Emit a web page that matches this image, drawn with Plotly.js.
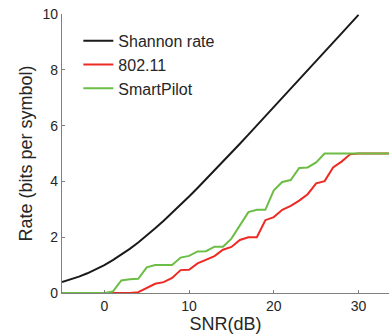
<!DOCTYPE html>
<html>
<head>
<meta charset="utf-8">
<script src="https://cdn.plot.ly/plotly-3.0.1.min.js"></script>
<style>html,body{margin:0;padding:0;background:#fff;}#chart{width:389px;height:336px;}</style>
</head>
<body>
<div id="chart"></div>
<script>
// SNR (dB)
const snr = [-5,-4,-3,-2,-1,0,1,2,3,4,5,6,7,8,9,10,11,12,13,14,15,16,17,18,19,20,21,22,23,24,25,26,27,28,29,30,31,32,33,34,35];
// Shannon rate (bits/symbol), up to 30 dB
const shannonSnr = [-5,-4,-3,-2,-1,0,1,2,3,4,5,6,7,8,9,10,11,12,13,14,15,16,17,18,19,20,21,22,23,24,25,26,27,28,29,30];
const shannonRate = [0.396,0.484,0.586,0.706,0.843,1.0,1.176,1.370,1.583,1.812,2.057,2.317,2.588,2.870,3.161,3.459,3.764,4.075,4.389,4.707,5.028,5.351,5.676,6.002,6.330,6.658,6.988,7.317,7.647,7.978,8.309,8.640,8.972,9.304,9.635,9.967];
// 802.11
const rate80211 = [0,0,0,0,0,0,0,0,0,0.03,0.18,0.33,0.39,0.54,0.82,0.83,1.06,1.2,1.32,1.55,1.65,1.9,2.0,2.0,2.61,2.72,2.98,3.12,3.31,3.54,3.93,4.01,4.5,4.71,4.97,5.0,5.0,5.0,5.0,5.0,5.0];
// SmartPilot
const rateSmartPilot = [0,0,0,0,0,0,0.05,0.45,0.49,0.51,0.92,1.0,1.0,1.0,1.27,1.33,1.49,1.5,1.66,1.66,1.95,2.45,2.9,2.98,2.98,3.68,3.98,4.05,4.48,4.5,4.68,5.0,5.0,5.0,5.0,5.0,5.0,5.0,5.0,5.0,5.0];

const xTicks = [0,10,20,30];
const yTicks = [0,2,4,6,8,10];

const traces = [
  {x: shannonSnr, y: shannonRate, name: 'Shannon rate', mode: 'lines', line: {color: '#1a1a1a', width: 2}},
  {x: snr, y: rate80211, name: '802.11', mode: 'lines', line: {color: '#ee2a24', width: 2}},
  {x: snr, y: rateSmartPilot, name: 'SmartPilot', mode: 'lines', line: {color: '#6cbd45', width: 2}}
];

const axisCommon = {
  showgrid: false, zeroline: false, showline: true, linecolor: '#808080', linewidth: 1.2,
  ticks: 'inside', ticklen: 3, tickcolor: '#808080', tickwidth: 1,
  tickfont: {family: 'Liberation Sans, Arial, sans-serif', size: 14, color: '#262626'},
  mirror: false
};

const layout = {
  width: 389, height: 336,
  margin: {l: 62, r: 0, t: 14, b: 43},
  paper_bgcolor: '#fff', plot_bgcolor: '#fff',
  showlegend: true,
  legend: {x: 0.05, y: 0.965, xanchor: 'left', yanchor: 'top', bgcolor: 'rgba(0,0,0,0)',
    font: {family: 'Liberation Sans, Arial, sans-serif', size: 16, color: '#262626'},
    tracegroupgap: 0, itemwidth: 30},
  xaxis: Object.assign({}, axisCommon, {range: [-5, 33.6], tickvals: xTicks, ticktext: xTicks.map(String),
    title: {text: 'SNR(dB)', standoff: 2, font: {family: 'Liberation Sans, Arial, sans-serif', size: 18, color: '#262626'}}}),
  yaxis: Object.assign({}, axisCommon, {range: [0, 10], tickvals: yTicks, ticktext: yTicks.map(String),
    title: {text: 'Rate (bits per symbol)', standoff: 5, font: {family: 'Liberation Sans, Arial, sans-serif', size: 18, color: '#262626'}}})
};

Plotly.newPlot('chart', traces, layout, {displayModeBar: false, staticPlot: true});
</script>
</body>
</html>
